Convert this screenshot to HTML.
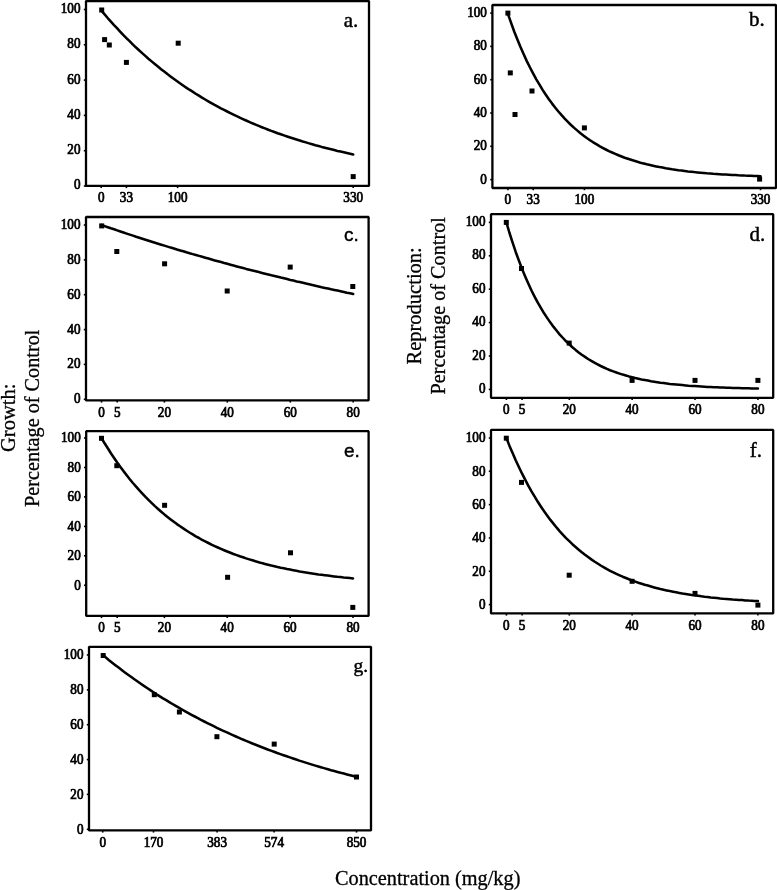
<!DOCTYPE html>
<html><head><meta charset="utf-8"><style>
html,body{margin:0;padding:0;background:#fff;}
svg{display:block;filter:grayscale(1);}
.ax{fill:none;stroke:#000;stroke-width:2.3;stroke-linejoin:bevel;}
.tk{fill:none;stroke:#000;stroke-width:1.6;}
.cv{fill:none;stroke:#000;stroke-width:2.55;stroke-linejoin:round;stroke-linecap:round;}
text{font-family:"Liberation Serif",serif;fill:#000;stroke:#000;stroke-width:0.45;}
.tl{font-size:14px;transform-box:fill-box;stroke-width:0.75;}
.ty{transform-origin:100% 50%;transform:scaleX(0.94);}
.tx{transform-origin:50% 50%;transform:scaleX(0.94);}
.pl{font-size:21px;}
.pls{font-family:"Liberation Sans",sans-serif;font-size:19px;}
.big{font-size:20.5px;stroke-width:0.3;}
</style></head><body>
<svg width="777" height="890" viewBox="0 0 777 890">
<rect width="777" height="890" fill="#fff"/>
<path class="ax" d="M86,1 H369 V185.9 H86 Z"/>
<path class="tk" d="M83.8,186.0 H86"/>
<text x="80.5" y="189.5" text-anchor="end" class="tl ty">0</text>
<path class="tk" d="M83.8,150.7 H86"/>
<text x="80.5" y="154.2" text-anchor="end" class="tl ty">20</text>
<path class="tk" d="M83.8,115.4 H86"/>
<text x="80.5" y="118.9" text-anchor="end" class="tl ty">40</text>
<path class="tk" d="M83.8,80.1 H86"/>
<text x="80.5" y="83.6" text-anchor="end" class="tl ty">60</text>
<path class="tk" d="M83.8,44.8 H86"/>
<text x="80.5" y="48.3" text-anchor="end" class="tl ty">80</text>
<path class="tk" d="M83.8,9.5 H86"/>
<text x="80.5" y="13.0" text-anchor="end" class="tl ty">100</text>
<path class="tk" d="M101.2,185.9 V188.1"/>
<text x="101.2" y="202.4" text-anchor="middle" class="tl tx">0</text>
<path class="tk" d="M126.4,185.9 V188.1"/>
<text x="126.4" y="202.4" text-anchor="middle" class="tl tx">33</text>
<path class="tk" d="M177.6,185.9 V188.1"/>
<text x="177.6" y="202.4" text-anchor="middle" class="tl tx">100</text>
<path class="tk" d="M353.2,185.9 V188.1"/>
<text x="353.2" y="202.4" text-anchor="middle" class="tl tx">330</text>
<rect x="99.2" y="7.5" width="5" height="5"/>
<rect x="102.1" y="37.1" width="5" height="5"/>
<rect x="106.8" y="42.5" width="5" height="5"/>
<rect x="123.9" y="59.9" width="5" height="5"/>
<rect x="175.7" y="40.7" width="5" height="5"/>
<rect x="350.7" y="174.1" width="5" height="5"/>
<polyline class="cv" points="101.2,10.4 104.4,14.1 107.5,17.8 110.7,21.3 113.8,24.8 117.0,28.2 120.1,31.6 123.2,34.9 126.4,38.1 129.6,41.2 132.7,44.3 135.8,47.3 139.0,50.2 142.2,53.1 145.3,55.9 148.4,58.7 151.6,61.4 154.8,64.0 157.9,66.6 161.1,69.2 164.2,71.6 167.4,74.1 170.5,76.4 173.7,78.8 176.8,81.0 179.9,83.3 183.1,85.5 186.2,87.6 189.4,89.7 192.6,91.7 195.7,93.7 198.9,95.7 202.0,97.6 205.2,99.5 208.3,101.3 211.4,103.1 214.6,104.9 217.8,106.6 220.9,108.3 224.1,109.9 227.2,111.5 230.4,113.1 233.5,114.7 236.7,116.2 239.8,117.7 242.9,119.1 246.1,120.5 249.2,121.9 252.4,123.3 255.6,124.6 258.7,125.9 261.9,127.2 265.0,128.4 268.2,129.7 271.3,130.9 274.4,132.0 277.6,133.2 280.8,134.3 283.9,135.4 287.1,136.5 290.2,137.5 293.4,138.5 296.5,139.5 299.7,140.5 302.8,141.5 305.9,142.4 309.1,143.4 312.2,144.3 315.4,145.2 318.6,146.0 321.7,146.9 324.9,147.7 328.0,148.5 331.2,149.3 334.3,150.1 337.4,150.9 340.6,151.6 343.8,152.3 346.9,153.0 350.1,153.7 353.2,154.4"/>
<text class="pl" x="343.8" y="26.7">a.</text>
<path class="ax" d="M492.4,5 H776 V188 H492.4 Z"/>
<path class="tk" d="M490.2,179.6 H492.4"/>
<text x="486.9" y="183.6" text-anchor="end" class="tl ty">0</text>
<path class="tk" d="M490.2,146.3 H492.4"/>
<text x="486.9" y="150.3" text-anchor="end" class="tl ty">20</text>
<path class="tk" d="M490.2,113.0 H492.4"/>
<text x="486.9" y="117.0" text-anchor="end" class="tl ty">40</text>
<path class="tk" d="M490.2,79.7 H492.4"/>
<text x="486.9" y="83.7" text-anchor="end" class="tl ty">60</text>
<path class="tk" d="M490.2,46.4 H492.4"/>
<text x="486.9" y="50.4" text-anchor="end" class="tl ty">80</text>
<path class="tk" d="M490.2,13.1 H492.4"/>
<text x="486.9" y="17.1" text-anchor="end" class="tl ty">100</text>
<path class="tk" d="M507.9,188 V190.2"/>
<text x="507.9" y="204.5" text-anchor="middle" class="tl tx">0</text>
<path class="tk" d="M533.2,188 V190.2"/>
<text x="533.2" y="204.5" text-anchor="middle" class="tl tx">33</text>
<path class="tk" d="M584.4,188 V190.2"/>
<text x="584.4" y="204.5" text-anchor="middle" class="tl tx">100</text>
<path class="tk" d="M760.5,188 V190.2"/>
<text x="760.5" y="204.5" text-anchor="middle" class="tl tx">330</text>
<rect x="505.4" y="10.6" width="5" height="5"/>
<rect x="507.8" y="70.4" width="5" height="5"/>
<rect x="512.5" y="112.0" width="5" height="5"/>
<rect x="529.5" y="88.5" width="5" height="5"/>
<rect x="581.9" y="125.4" width="5" height="5"/>
<rect x="757.1" y="176.6" width="5" height="5"/>
<polyline class="cv" points="507.9,13.9 511.1,22.9 514.2,31.5 517.4,39.5 520.5,47.1 523.7,54.3 526.8,61.1 530.0,67.5 533.2,73.6 536.3,79.3 539.5,84.7 542.6,89.9 545.8,94.7 548.9,99.3 552.1,103.6 555.3,107.7 558.4,111.5 561.6,115.2 564.7,118.6 567.9,121.9 571.0,125.0 574.2,127.9 577.4,130.6 580.5,133.2 583.7,135.7 586.8,138.0 590.0,140.2 593.2,142.3 596.3,144.2 599.5,146.1 602.6,147.8 605.8,149.5 608.9,151.1 612.1,152.5 615.3,153.9 618.4,155.2 621.6,156.5 624.7,157.7 627.9,158.8 631.0,159.8 634.2,160.8 637.4,161.8 640.5,162.7 643.7,163.5 646.8,164.3 650.0,165.0 653.1,165.7 656.3,166.4 659.5,167.1 662.6,167.6 665.8,168.2 668.9,168.7 672.1,169.3 675.2,169.7 678.4,170.2 681.6,170.6 684.7,171.0 687.9,171.4 691.0,171.7 694.2,172.1 697.4,172.4 700.5,172.7 703.7,173.0 706.8,173.3 710.0,173.5 713.1,173.8 716.3,174.0 719.5,174.2 722.6,174.4 725.8,174.6 728.9,174.8 732.1,175.0 735.2,175.1 738.4,175.3 741.6,175.4 744.7,175.6 747.9,175.7 751.0,175.8 754.2,175.9 757.3,176.0 760.5,176.2"/>
<text class="pl" x="749" y="26.2">b.</text>
<path class="ax" d="M86,217 H368.6 V400.4 H86 Z"/>
<path class="tk" d="M83.8,399.3 H86"/>
<text x="80.5" y="403.3" text-anchor="end" class="tl ty">0</text>
<path class="tk" d="M83.8,364.4 H86"/>
<text x="80.5" y="368.5" text-anchor="end" class="tl ty">20</text>
<path class="tk" d="M83.8,329.6 H86"/>
<text x="80.5" y="333.6" text-anchor="end" class="tl ty">40</text>
<path class="tk" d="M83.8,294.7 H86"/>
<text x="80.5" y="298.8" text-anchor="end" class="tl ty">60</text>
<path class="tk" d="M83.8,259.9 H86"/>
<text x="80.5" y="263.9" text-anchor="end" class="tl ty">80</text>
<path class="tk" d="M83.8,225.0 H86"/>
<text x="80.5" y="229.0" text-anchor="end" class="tl ty">100</text>
<path class="tk" d="M101.5,400.4 V402.59999999999997"/>
<text x="101.5" y="416.9" text-anchor="middle" class="tl tx">0</text>
<path class="tk" d="M117.2,400.4 V402.59999999999997"/>
<text x="117.2" y="416.9" text-anchor="middle" class="tl tx">5</text>
<path class="tk" d="M164.4,400.4 V402.59999999999997"/>
<text x="164.4" y="416.9" text-anchor="middle" class="tl tx">20</text>
<path class="tk" d="M227.3,400.4 V402.59999999999997"/>
<text x="227.3" y="416.9" text-anchor="middle" class="tl tx">40</text>
<path class="tk" d="M290.3,400.4 V402.59999999999997"/>
<text x="290.3" y="416.9" text-anchor="middle" class="tl tx">60</text>
<path class="tk" d="M353.2,400.4 V402.59999999999997"/>
<text x="353.2" y="416.9" text-anchor="middle" class="tl tx">80</text>
<rect x="99.2" y="223.4" width="5" height="5"/>
<rect x="114.3" y="249.0" width="5" height="5"/>
<rect x="162.1" y="261.3" width="5" height="5"/>
<rect x="224.7" y="288.5" width="5" height="5"/>
<rect x="287.7" y="264.6" width="5" height="5"/>
<rect x="350.3" y="284.0" width="5" height="5"/>
<polyline class="cv" points="101.5,225.0 104.6,226.1 107.8,227.2 110.9,228.3 114.1,229.3 117.2,230.4 120.4,231.5 123.5,232.5 126.7,233.6 129.8,234.6 133.0,235.6 136.1,236.7 139.3,237.7 142.4,238.7 145.5,239.7 148.7,240.7 151.8,241.7 155.0,242.7 158.1,243.7 161.3,244.7 164.4,245.6 167.6,246.6 170.7,247.6 173.9,248.5 177.0,249.5 180.2,250.4 183.3,251.3 186.4,252.3 189.6,253.2 192.7,254.1 195.9,255.0 199.0,255.9 202.2,256.8 205.3,257.7 208.5,258.6 211.6,259.5 214.8,260.4 217.9,261.2 221.1,262.1 224.2,263.0 227.3,263.8 230.5,264.7 233.6,265.5 236.8,266.4 239.9,267.2 243.1,268.0 246.2,268.9 249.4,269.7 252.5,270.5 255.7,271.3 258.8,272.1 262.0,272.9 265.1,273.7 268.3,274.5 271.4,275.3 274.5,276.0 277.7,276.8 280.8,277.6 284.0,278.3 287.1,279.1 290.3,279.9 293.4,280.6 296.6,281.4 299.7,282.1 302.9,282.8 306.0,283.6 309.2,284.3 312.3,285.0 315.4,285.7 318.6,286.4 321.7,287.2 324.9,287.9 328.0,288.6 331.2,289.3 334.3,289.9 337.5,290.6 340.6,291.3 343.8,292.0 346.9,292.7 350.1,293.3 353.2,294.0"/>
<text class="pls" x="343.9" y="241.3">c.</text>
<path class="ax" d="M491,214.2 H773.2 V397.8 H491 Z"/>
<path class="tk" d="M488.8,389.4 H491"/>
<text x="485.5" y="393.1" text-anchor="end" class="tl ty">0</text>
<path class="tk" d="M488.8,356.0 H491"/>
<text x="485.5" y="359.7" text-anchor="end" class="tl ty">20</text>
<path class="tk" d="M488.8,322.6 H491"/>
<text x="485.5" y="326.3" text-anchor="end" class="tl ty">40</text>
<path class="tk" d="M488.8,289.2 H491"/>
<text x="485.5" y="292.9" text-anchor="end" class="tl ty">60</text>
<path class="tk" d="M488.8,255.8 H491"/>
<text x="485.5" y="259.5" text-anchor="end" class="tl ty">80</text>
<path class="tk" d="M488.8,222.4 H491"/>
<text x="485.5" y="226.1" text-anchor="end" class="tl ty">100</text>
<path class="tk" d="M506.4,397.8 V400.0"/>
<text x="506.4" y="414.3" text-anchor="middle" class="tl tx">0</text>
<path class="tk" d="M522.1,397.8 V400.0"/>
<text x="522.1" y="414.3" text-anchor="middle" class="tl tx">5</text>
<path class="tk" d="M569.3,397.8 V400.0"/>
<text x="569.3" y="414.3" text-anchor="middle" class="tl tx">20</text>
<path class="tk" d="M632.1,397.8 V400.0"/>
<text x="632.1" y="414.3" text-anchor="middle" class="tl tx">40</text>
<path class="tk" d="M695.0,397.8 V400.0"/>
<text x="695.0" y="414.3" text-anchor="middle" class="tl tx">60</text>
<path class="tk" d="M757.9,397.8 V400.0"/>
<text x="757.9" y="414.3" text-anchor="middle" class="tl tx">80</text>
<rect x="503.8" y="219.9" width="5" height="5"/>
<rect x="519.0" y="266.0" width="5" height="5"/>
<rect x="566.7" y="340.6" width="5" height="5"/>
<rect x="629.6" y="377.9" width="5" height="5"/>
<rect x="692.5" y="377.9" width="5" height="5"/>
<rect x="755.4" y="377.9" width="5" height="5"/>
<polyline class="cv" points="506.4,222.4 509.5,233.0 512.7,242.9 515.8,252.2 519.0,260.9 522.1,269.0 525.3,276.7 528.4,283.8 531.5,290.5 534.7,296.8 537.8,302.7 541.0,308.2 544.1,313.3 547.3,318.1 550.4,322.6 553.6,326.9 556.7,330.8 559.8,334.6 563.0,338.0 566.1,341.3 569.3,344.3 572.4,347.2 575.6,349.9 578.7,352.4 581.8,354.7 585.0,356.9 588.1,359.0 591.3,360.9 594.4,362.7 597.6,364.4 600.7,366.0 603.9,367.5 607.0,368.9 610.1,370.2 613.3,371.4 616.4,372.5 619.6,373.6 622.7,374.6 625.9,375.5 629.0,376.4 632.1,377.2 635.3,378.0 638.4,378.7 641.6,379.4 644.7,380.0 647.9,380.6 651.0,381.2 654.2,381.7 657.3,382.2 660.4,382.7 663.6,383.1 666.7,383.5 669.9,383.9 673.0,384.2 676.2,384.5 679.3,384.8 682.4,385.1 685.6,385.4 688.7,385.7 691.9,385.9 695.0,386.1 698.2,386.3 701.3,386.5 704.5,386.7 707.6,386.9 710.7,387.0 713.9,387.2 717.0,387.3 720.2,387.5 723.3,387.6 726.5,387.7 729.6,387.8 732.8,387.9 735.9,388.0 739.0,388.1 742.2,388.2 745.3,388.2 748.5,388.3 751.6,388.4 754.8,388.5 757.9,388.5"/>
<text class="pl" x="749.4" y="240.9">d.</text>
<path class="ax" d="M86.2,431.2 H368.6 V615.9 H86.2 Z"/>
<path class="tk" d="M84.0,585.3 H86.2"/>
<text x="80.7" y="589.7" text-anchor="end" class="tl ty">0</text>
<path class="tk" d="M84.0,555.8 H86.2"/>
<text x="80.7" y="560.3" text-anchor="end" class="tl ty">20</text>
<path class="tk" d="M84.0,526.4 H86.2"/>
<text x="80.7" y="530.8" text-anchor="end" class="tl ty">40</text>
<path class="tk" d="M84.0,496.9 H86.2"/>
<text x="80.7" y="501.4" text-anchor="end" class="tl ty">60</text>
<path class="tk" d="M84.0,467.5 H86.2"/>
<text x="80.7" y="471.9" text-anchor="end" class="tl ty">80</text>
<path class="tk" d="M84.0,438.0 H86.2"/>
<text x="80.7" y="442.4" text-anchor="end" class="tl ty">100</text>
<path class="tk" d="M101.5,615.9 V618.1"/>
<text x="101.5" y="632.4" text-anchor="middle" class="tl tx">0</text>
<path class="tk" d="M117.2,615.9 V618.1"/>
<text x="117.2" y="632.4" text-anchor="middle" class="tl tx">5</text>
<path class="tk" d="M164.4,615.9 V618.1"/>
<text x="164.4" y="632.4" text-anchor="middle" class="tl tx">20</text>
<path class="tk" d="M227.2,615.9 V618.1"/>
<text x="227.2" y="632.4" text-anchor="middle" class="tl tx">40</text>
<path class="tk" d="M290.1,615.9 V618.1"/>
<text x="290.1" y="632.4" text-anchor="middle" class="tl tx">60</text>
<path class="tk" d="M353.0,615.9 V618.1"/>
<text x="353.0" y="632.4" text-anchor="middle" class="tl tx">80</text>
<rect x="99.0" y="435.8" width="5" height="5"/>
<rect x="114.3" y="463.2" width="5" height="5"/>
<rect x="162.1" y="502.8" width="5" height="5"/>
<rect x="225.1" y="574.8" width="5" height="5"/>
<rect x="288.0" y="550.3" width="5" height="5"/>
<rect x="350.3" y="604.9" width="5" height="5"/>
<polyline class="cv" points="101.5,438.0 104.6,443.3 107.8,448.3 110.9,453.2 114.1,458.0 117.2,462.5 120.4,466.9 123.5,471.1 126.7,475.2 129.8,479.2 132.9,483.0 136.1,486.6 139.2,490.2 142.4,493.6 145.5,496.9 148.7,500.1 151.8,503.1 154.9,506.1 158.1,509.0 161.2,511.7 164.4,514.4 167.5,516.9 170.7,519.4 173.8,521.8 176.9,524.1 180.1,526.3 183.2,528.4 186.4,530.5 189.5,532.5 192.7,534.4 195.8,536.3 199.0,538.0 202.1,539.8 205.2,541.4 208.4,543.0 211.5,544.6 214.7,546.1 217.8,547.5 221.0,548.9 224.1,550.2 227.2,551.5 230.4,552.8 233.5,554.0 236.7,555.1 239.8,556.3 243.0,557.3 246.1,558.4 249.3,559.4 252.4,560.3 255.5,561.3 258.7,562.2 261.8,563.1 265.0,563.9 268.1,564.7 271.3,565.5 274.4,566.2 277.5,567.0 280.7,567.7 283.8,568.3 287.0,569.0 290.1,569.6 293.3,570.2 296.4,570.8 299.6,571.4 302.7,571.9 305.8,572.4 309.0,572.9 312.1,573.4 315.3,573.9 318.4,574.4 321.6,574.8 324.7,575.2 327.9,575.6 331.0,576.0 334.1,576.4 337.3,576.8 340.4,577.1 343.6,577.5 346.7,577.8 349.9,578.1 353.0,578.4"/>
<text class="pls" x="343.9" y="456.9">e.</text>
<path class="ax" d="M491,429.9 H773.2 V613.4 H491 Z"/>
<path class="tk" d="M488.8,604.6 H491"/>
<text x="485.5" y="609.0" text-anchor="end" class="tl ty">0</text>
<path class="tk" d="M488.8,571.3 H491"/>
<text x="485.5" y="575.7" text-anchor="end" class="tl ty">20</text>
<path class="tk" d="M488.8,538.0 H491"/>
<text x="485.5" y="542.4" text-anchor="end" class="tl ty">40</text>
<path class="tk" d="M488.8,504.6 H491"/>
<text x="485.5" y="509.1" text-anchor="end" class="tl ty">60</text>
<path class="tk" d="M488.8,471.3 H491"/>
<text x="485.5" y="475.8" text-anchor="end" class="tl ty">80</text>
<path class="tk" d="M488.8,438.0 H491"/>
<text x="485.5" y="442.4" text-anchor="end" class="tl ty">100</text>
<path class="tk" d="M506.4,613.4 V615.6"/>
<text x="506.4" y="629.9" text-anchor="middle" class="tl tx">0</text>
<path class="tk" d="M522.1,613.4 V615.6"/>
<text x="522.1" y="629.9" text-anchor="middle" class="tl tx">5</text>
<path class="tk" d="M569.3,613.4 V615.6"/>
<text x="569.3" y="629.9" text-anchor="middle" class="tl tx">20</text>
<path class="tk" d="M632.1,613.4 V615.6"/>
<text x="632.1" y="629.9" text-anchor="middle" class="tl tx">40</text>
<path class="tk" d="M695.0,613.4 V615.6"/>
<text x="695.0" y="629.9" text-anchor="middle" class="tl tx">60</text>
<path class="tk" d="M757.9,613.4 V615.6"/>
<text x="757.9" y="629.9" text-anchor="middle" class="tl tx">80</text>
<rect x="503.8" y="435.7" width="5" height="5"/>
<rect x="519.0" y="479.9" width="5" height="5"/>
<rect x="566.7" y="572.7" width="5" height="5"/>
<rect x="629.6" y="578.8" width="5" height="5"/>
<rect x="692.5" y="590.9" width="5" height="5"/>
<rect x="755.4" y="602.6" width="5" height="5"/>
<polyline class="cv" points="506.4,438.0 509.5,445.9 512.7,453.3 515.8,460.5 519.0,467.3 522.1,473.7 525.3,479.9 528.4,485.8 531.5,491.4 534.7,496.7 537.8,501.8 541.0,506.7 544.1,511.3 547.3,515.7 550.4,519.9 553.6,523.9 556.7,527.7 559.8,531.3 563.0,534.8 566.1,538.1 569.3,541.2 572.4,544.2 575.6,547.0 578.7,549.7 581.8,552.3 585.0,554.8 588.1,557.1 591.3,559.4 594.4,561.5 597.6,563.5 600.7,565.5 603.9,567.3 607.0,569.1 610.1,570.8 613.3,572.4 616.4,573.9 619.6,575.3 622.7,576.7 625.9,578.0 629.0,579.3 632.1,580.5 635.3,581.6 638.4,582.7 641.6,583.7 644.7,584.7 647.9,585.6 651.0,586.5 654.2,587.4 657.3,588.2 660.4,589.0 663.6,589.7 666.7,590.4 669.9,591.1 673.0,591.7 676.2,592.3 679.3,592.9 682.4,593.5 685.6,594.0 688.7,594.5 691.9,595.0 695.0,595.4 698.2,595.8 701.3,596.3 704.5,596.7 707.6,597.0 710.7,597.4 713.9,597.7 717.0,598.0 720.2,598.4 723.3,598.7 726.5,598.9 729.6,599.2 732.8,599.5 735.9,599.7 739.0,599.9 742.2,600.1 745.3,600.4 748.5,600.6 751.6,600.7 754.8,600.9 757.9,601.1"/>
<text class="pl" x="749.8" y="457.1">f.</text>
<path class="ax" d="M89,646.8 H371 V830.4 H89 Z"/>
<path class="tk" d="M86.8,829.3 H89"/>
<text x="83.5" y="833.7" text-anchor="end" class="tl ty">0</text>
<path class="tk" d="M86.8,794.4 H89"/>
<text x="83.5" y="798.9" text-anchor="end" class="tl ty">20</text>
<path class="tk" d="M86.8,759.6 H89"/>
<text x="83.5" y="764.0" text-anchor="end" class="tl ty">40</text>
<path class="tk" d="M86.8,724.7 H89"/>
<text x="83.5" y="729.2" text-anchor="end" class="tl ty">60</text>
<path class="tk" d="M86.8,689.9 H89"/>
<text x="83.5" y="694.3" text-anchor="end" class="tl ty">80</text>
<path class="tk" d="M86.8,655.0 H89"/>
<text x="83.5" y="659.4" text-anchor="end" class="tl ty">100</text>
<path class="tk" d="M102.7,830.4 V832.6"/>
<text x="102.7" y="846.9" text-anchor="middle" class="tl tx">0</text>
<path class="tk" d="M153.5,830.4 V832.6"/>
<text x="153.5" y="846.9" text-anchor="middle" class="tl tx">170</text>
<path class="tk" d="M217.1,830.4 V832.6"/>
<text x="217.1" y="846.9" text-anchor="middle" class="tl tx">383</text>
<path class="tk" d="M274.1,830.4 V832.6"/>
<text x="274.1" y="846.9" text-anchor="middle" class="tl tx">574</text>
<path class="tk" d="M356.5,830.4 V832.6"/>
<text x="356.5" y="846.9" text-anchor="middle" class="tl tx">850</text>
<rect x="100.7" y="653.0" width="5" height="5"/>
<rect x="151.8" y="692.2" width="5" height="5"/>
<rect x="176.9" y="709.5" width="5" height="5"/>
<rect x="214.4" y="734.2" width="5" height="5"/>
<rect x="271.7" y="741.6" width="5" height="5"/>
<rect x="354.0" y="774.5" width="5" height="5"/>
<polyline class="cv" points="102.7,655.0 105.9,657.6 109.0,660.2 112.2,662.7 115.4,665.2 118.6,667.6 121.7,670.0 124.9,672.4 128.1,674.7 131.3,677.0 134.4,679.3 137.6,681.5 140.8,683.7 143.9,685.9 147.1,688.0 150.3,690.1 153.5,692.2 156.6,694.3 159.8,696.3 163.0,698.3 166.2,700.2 169.3,702.1 172.5,704.0 175.7,705.9 178.8,707.7 182.0,709.5 185.2,711.3 188.4,713.1 191.5,714.8 194.7,716.5 197.9,718.2 201.0,719.9 204.2,721.5 207.4,723.1 210.6,724.7 213.7,726.2 216.9,727.8 220.1,729.3 223.3,730.8 226.4,732.2 229.6,733.7 232.8,735.1 235.9,736.5 239.1,737.9 242.3,739.3 245.5,740.6 248.6,741.9 251.8,743.2 255.0,744.5 258.2,745.8 261.3,747.0 264.5,748.2 267.7,749.5 270.8,750.6 274.0,751.8 277.2,753.0 280.4,754.1 283.5,755.2 286.7,756.3 289.9,757.4 293.1,758.5 296.2,759.5 299.4,760.6 302.6,761.6 305.7,762.6 308.9,763.6 312.1,764.6 315.3,765.6 318.4,766.5 321.6,767.4 324.8,768.4 327.9,769.3 331.1,770.2 334.3,771.0 337.5,771.9 340.6,772.8 343.8,773.6 347.0,774.4 350.2,775.3 353.3,776.1 356.5,776.9"/>
<text class="pl" x="353.6" y="671.5" style="font-size:19.5px">g.</text>
<text class="big" transform="translate(14.8,452) rotate(-90)">Growth:</text>
<text class="big" transform="translate(38.8,507) rotate(-90)" textLength="177.4" lengthAdjust="spacingAndGlyphs">Percentage of Control</text>
<text class="big" transform="translate(421.1,364.5) rotate(-90)">Reproduction:</text>
<text class="big" transform="translate(444.9,394.5) rotate(-90)" textLength="177.4" lengthAdjust="spacingAndGlyphs">Percentage of Control</text>
<text class="big" x="335" y="885" textLength="185.4" lengthAdjust="spacingAndGlyphs">Concentration (mg/kg)</text>
</svg>
</body></html>
